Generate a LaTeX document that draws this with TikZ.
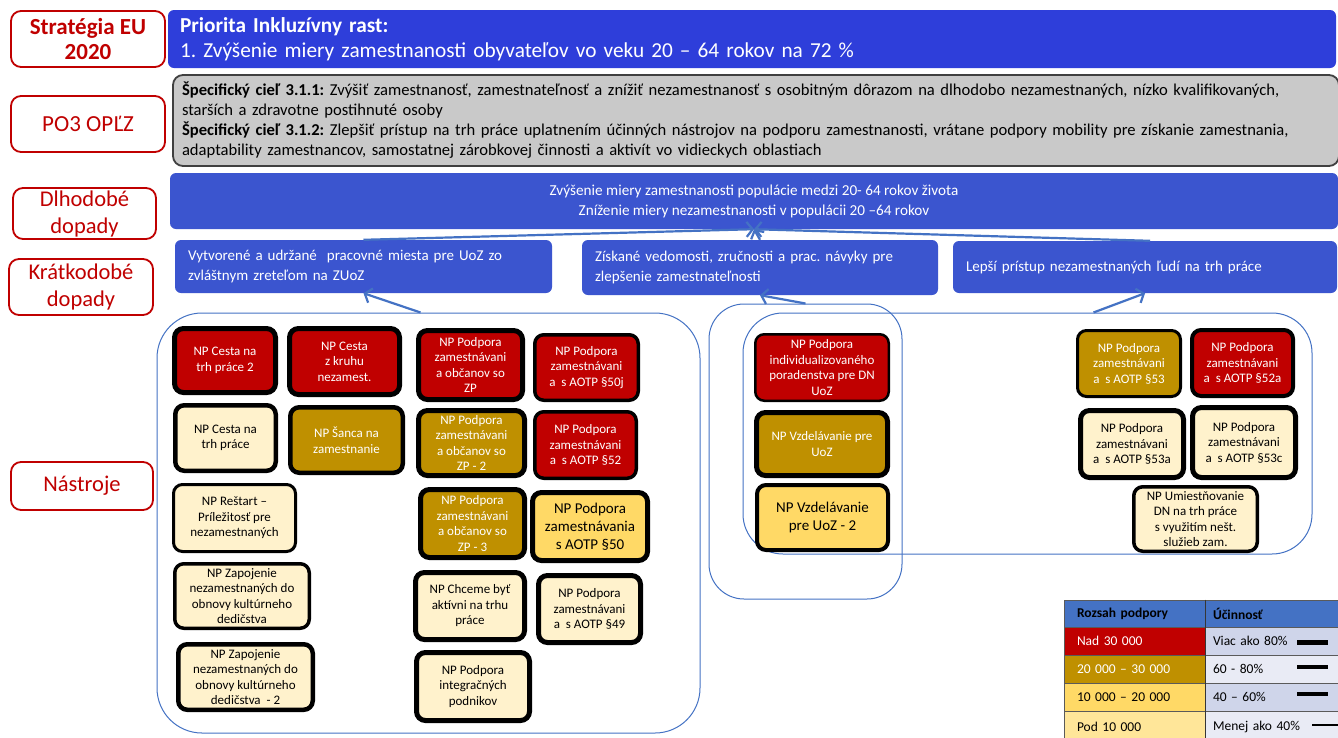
\documentclass[tikz,border=0pt]{standalone}
\usepackage{fontspec}
\setmainfont{Carlito}
\usetikzlibrary{arrows.meta,calc}
\frenchspacing

\definecolor{topblue}{RGB}{46,62,218}
\definecolor{midblue}{RGB}{59,85,207}
\definecolor{grayfill}{RGB}{201,201,201}
\definecolor{grayline}{RGB}{64,64,64}
\definecolor{npred}{RGB}{192,0,0}
\definecolor{npolive}{RGB}{191,144,0}
\definecolor{npyellow}{RGB}{255,217,102}
\definecolor{nplight}{RGB}{255,242,204}
\definecolor{legyellow}{RGB}{255,230,153}
\definecolor{grpblue}{RGB}{68,114,196}
\definecolor{legrowa}{RGB}{207,213,234}
\definecolor{legrowb}{RGB}{233,235,245}
\definecolor{legline}{RGB}{90,90,90}

\newcommand{\tbox}[9]{%
  \pgfmathsetmacro{\tbcx}{(#2+#4)/2}%
  \pgfmathsetmacro{\tbcy}{(#3+#5)/2}%
  \pgfmathsetmacro{\tbw}{#4-#2-#7}%
  \pgfmathsetmacro{\tbh}{#5-#3-#7}%
  \node[tool, fill=#6, line width=#7pt, text=#8, minimum width=\tbw pt, minimum height=\tbh pt] (#1) at (\tbcx,\tbcy) {#9};%
}
\newcommand{\lcell}[8]{%
  \pgfmathsetmacro{\tbcx}{(#2+#4)/2}%
  \pgfmathsetmacro{\tbcy}{(#3+#5)/2}%
  \pgfmathsetmacro{\tbw}{#4-#2}%
  \pgfmathsetmacro{\tbh}{#5-#3}%
  \pgfmathsetmacro{\tbtw}{#4-#2-2*#8}%
  \node[cell, fill=#6, minimum width=\tbw pt, minimum height=\tbh pt, text width=\tbtw pt, inner xsep=#8pt] (#1) at (\tbcx,\tbcy) {#7};%
}

\begin{document}
\begin{tikzpicture}[x=1pt,y=-1pt,
  lab/.style={draw=npred, line width=1.8pt, rounded corners=10pt, fill=white, text=npred, align=center, inner sep=0pt},
  bigblue/.style={rounded corners=6pt, text=white, inner sep=0pt},
  tool/.style={draw=black, rounded corners=9pt, align=center, inner sep=1pt, font=\fontsize{13}{15.5}\selectfont},
  bigtext/.style={font=\fontsize{15}{18}\selectfont},
  grp/.style={draw=grpblue, line width=1pt},
  arr/.style={draw=grpblue, line width=2.2pt, -{Straight Barb[length=6pt,width=15pt]}},
  cell/.style={draw=legline, line width=0.8pt, align=left, inner ysep=0pt, font=\fontsize{13.5}{15}\selectfont}
]
\useasboundingbox (0,0) rectangle (1338,737);
\fill[white] (0,0) rectangle (1338,737);

% left labels
\node[lab, minimum width=154pt, minimum height=56pt, font=\bfseries\fontsize{23}{25}\selectfont] (lstr) at (88,39) {Stratégia EU\\2020};
\node[lab, minimum width=154pt, minimum height=56pt, font=\fontsize{23}{26}\selectfont] (lpo) at (88,124) {PO3 OPĽZ};
\node[lab, minimum width=143pt, minimum height=51pt, font=\fontsize{22.5}{27}\selectfont] (ldl) at (84.5,213.5) {Dlhodobé\\dopady};
\node[lab, minimum width=144pt, minimum height=56pt, font=\fontsize{22.5}{27}\selectfont] (lkr) at (81,287) {Krátkodobé\\dopady};
\node[lab, minimum width=142pt, minimum height=48pt, font=\fontsize{22.5}{25}\selectfont] (lna) at (82,486) {Nástroje};

% top blue
\node[bigblue, fill=topblue, minimum width=1168pt, minimum height=58pt, text width=1144pt, align=left, font=\fontsize{21.3}{25}\selectfont] (prio) at (752,39)
  {\textbf{Priorita Inkluzívny rast:}\\1. Zvýšenie miery zamestnanosti obyvateľov vo veku 20 – 64 rokov na 72 \%};

% gray box
\node[draw=grayline, line width=1.8pt, fill=grayfill, rounded corners=10pt, minimum width=1166pt, minimum height=91pt, text width=1148pt, align=left, inner sep=0pt, font=\fontsize{16.6}{20}\selectfont] (ciel) at (756,120.5)
  {\textbf{Špecifický cieľ 3.1.1:} Zvýšiť zamestnanosť, zamestnateľnosť a znížiť nezamestnanosť s osobitným dôrazom na dlhodobo nezamestnaných, nízko kvalifikovaných,\\
   starších a zdravotne postihnuté osoby\\
   \textbf{Špecifický cieľ 3.1.2:} Zlepšiť prístup na trh práce uplatnením účinných nástrojov na podporu zamestnanosti, vrátane podpory mobility pre získanie zamestnania,\\
   adaptability zamestnancov, samostatnej zárobkovej činnosti a aktivít vo vidieckych oblastiach};

% long-term
\node[bigblue, fill=midblue, minimum width=1168pt, minimum height=56pt, align=center, font=\fontsize{15.2}{20}\selectfont] (D) at (754,201)
  {Zvýšenie miery zamestnanosti populácie medzi 20- 64 rokov života\\Zníženie miery nezamestnanosti v populácii 20 –64 rokov};

% short-term
\node[bigblue, fill=midblue, minimum width=377pt, minimum height=53pt, text width=351pt, align=left, font=\fontsize{15}{20}\selectfont] (A) at (363.5,266.5)
  {Vytvorené a udržané \ pracovné miesta pre UoZ zo\\zvláštnym zreteľom na ZUoZ};
\node[bigblue, fill=midblue, minimum width=356pt, minimum height=55pt, text width=330pt, align=left, font=\fontsize{15}{20}\selectfont] (B) at (760,267.5)
  {Získané vedomosti, zručnosti a prac. návyky pre\\zlepšenie zamestnateľnosti};
\node[bigblue, fill=midblue, minimum width=384pt, minimum height=52pt, text width=358pt, align=left, font=\fontsize{15}{20}\selectfont] (C) at (1145,267)
  {Lepší prístup nezamestnaných ľudí na trh práce};

% groups
\node[grp, rounded corners=45pt, minimum width=543pt, minimum height=420pt] (G1) at (428.5,523) {};
\node[grp, rounded corners=35pt, minimum width=193pt, minimum height=295pt] (G2) at (805.5,451.5) {};
\node[grp, rounded corners=40pt, minimum width=569pt, minimum height=241pt] (G3) at (1027.5,433.5) {};

% arrows
\draw[arr] (A.north) -- (D.south);
\draw[arr] (B.north) -- (D.south);
\draw[arr] ([xshift=5pt]C.north) -- (D.south);
\draw[arr] ([xshift=-8pt]G1.north) -- (A.south);
\draw[arr] (G2.north) -- (B.south);
\draw[arr] ([xshift=66pt]G3.north) -- (C.south);

% tools - left group
\tbox{n1}{172}{326}{278}{395}{npred}{5}{white}{NP Cesta na\\trh práce 2}
\tbox{n2}{287}{326}{402}{397}{npred}{5}{white}{NP Cesta\\z kruhu\\nezamest.}
\tbox{n3}{173}{403}{278}{473}{nplight}{4.5}{black}{NP Cesta na\\trh práce}
\tbox{n4}{288}{405}{405}{475}{npolive}{4.5}{white}{NP Šanca na\\zamestnanie}
\tbox{n5}{172}{483}{297}{553}{nplight}{3}{black}{NP Reštart –\\Príležitosť pre\\nezamestnaných}
\tbox{n6}{173}{562}{311}{630}{nplight}{3.5}{black}{NP Zapojenie\\nezamestnaných do\\obnovy kultúrneho\\dedičstva}
\tbox{n7}{176}{642}{315}{712}{nplight}{4.5}{black}{NP Zapojenie\\nezamestnaných do\\obnovy kultúrneho\\dedičstva \ - 2}
\tbox{n8}{416}{328}{525}{402}{npred}{5}{white}{NP Podpora\\zamestnávani\\a občanov so\\ZP}
\tbox{n9}{533}{333}{640}{402}{npred}{3.5}{white}{NP Podpora\\zamestnávani\\a \ s AOTP §50j}
\tbox{n10}{416}{408}{527}{478}{npolive}{5}{white}{NP Podpora\\zamestnávani\\a občanov so\\ZP - 2}
\tbox{n11}{533}{410}{638}{480}{npred}{3.5}{white}{NP Podpora\\zamestnávani\\a \ s AOTP §52}
\tbox{n12}{418}{487}{527}{560}{npolive}{5}{white}{NP Podpora\\zamestnávani\\a občanov so\\ZP - 3}
\tbox{n13}{530}{490}{650}{563}{npyellow, bigtext}{5}{black}{NP Podpora\\zamestnávania\\s AOTP §50}
\tbox{n14}{413}{570}{527}{642}{nplight}{5}{black}{NP Chceme byť\\aktívni na trhu\\práce}
\tbox{n15}{536}{573}{643}{645}{nplight}{5}{black}{NP Podpora\\zamestnávani\\a \ s AOTP §49}
\tbox{n16}{414}{650}{532}{723}{nplight}{5}{black}{NP Podpora\\integračných\\podnikov}

% middle group
\tbox{m1}{754}{333}{890}{402}{npred}{2.5}{white}{NP Podpora\\individualizovaného\\poradenstva pre DN\\UoZ}
\tbox{m2}{754}{410}{890}{478}{npolive}{5}{white}{NP Vzdelávanie pre\\UoZ}
\tbox{m3}{755}{483}{890}{552}{npyellow, bigtext}{4}{black}{NP Vzdelávanie\\pre UoZ - 2}

% right group
\tbox{r1}{1076}{329}{1182}{398}{npolive}{3}{white}{NP Podpora\\zamestnávani\\a \ s AOTP §53}
\tbox{r2}{1190}{328}{1295}{398}{npred}{4}{white}{NP Podpora\\zamestnávani\\a \ s AOTP §52a}
\tbox{r3}{1078}{408}{1186}{480}{nplight}{5}{black}{NP Podpora\\zamestnávani\\a \ s AOTP §53a}
\tbox{r4}{1190}{405}{1298}{480}{nplight}{5}{black}{NP Podpora\\zamestnávani\\a \ s AOTP §53c}
\tbox{r5}{1132}{485}{1259}{553}{nplight}{3.5}{black}{NP Umiestňovanie\\DN na trh práce\\s využitím nešt.\\služieb zam.}

% legend
\lcell{h1}{1064}{600}{1205}{627}{grpblue}{\textbf{Rozsah podpory}}{13}
\lcell{h2}{1205}{600}{1345}{627}{grpblue}{\textbf{Účinnosť}}{8}
\lcell{a1}{1064}{627}{1205}{655}{npred}{\textcolor{white}{Nad 30 000}}{13}
\lcell{a2}{1064}{655}{1205}{683}{npolive}{\textcolor{white}{20 000 – 30 000}}{13}
\lcell{a3}{1064}{683}{1205}{711}{npyellow}{10 000 – 20 000}{13}
\lcell{a4}{1064}{711}{1205}{742}{legyellow}{Pod 10 000}{13}
\lcell{b1}{1205}{627}{1345}{655}{legrowa}{Viac ako 80\%}{8}
\lcell{b2}{1205}{655}{1345}{683}{legrowb}{60 - 80\%}{8}
\lcell{b3}{1205}{683}{1345}{711}{legrowa}{40 – 60\%}{8}
\lcell{b4}{1205}{711}{1345}{742}{legrowb}{Menej ako 40\%}{8}
\draw[line width=1.6pt, legline!60!black] (h1.north east) -- (a4.south east);
\coordinate (s1a) at (1297,642); \coordinate (s1b) at (1328,642);
\coordinate (s2a) at (1297,667); \coordinate (s2b) at (1328,667);
\coordinate (s3a) at (1297,694); \coordinate (s3b) at (1328,694);
\coordinate (s4a) at (1312,725); \coordinate (s4b) at (1340,725);
\draw[line width=5pt] (s1a) -- (s1b);
\draw[line width=4pt] (s2a) -- (s2b);
\draw[line width=3.5pt] (s3a) -- (s3b);
\draw[line width=2pt] (s4a) -- (s4b);
\end{tikzpicture}
\end{document}
